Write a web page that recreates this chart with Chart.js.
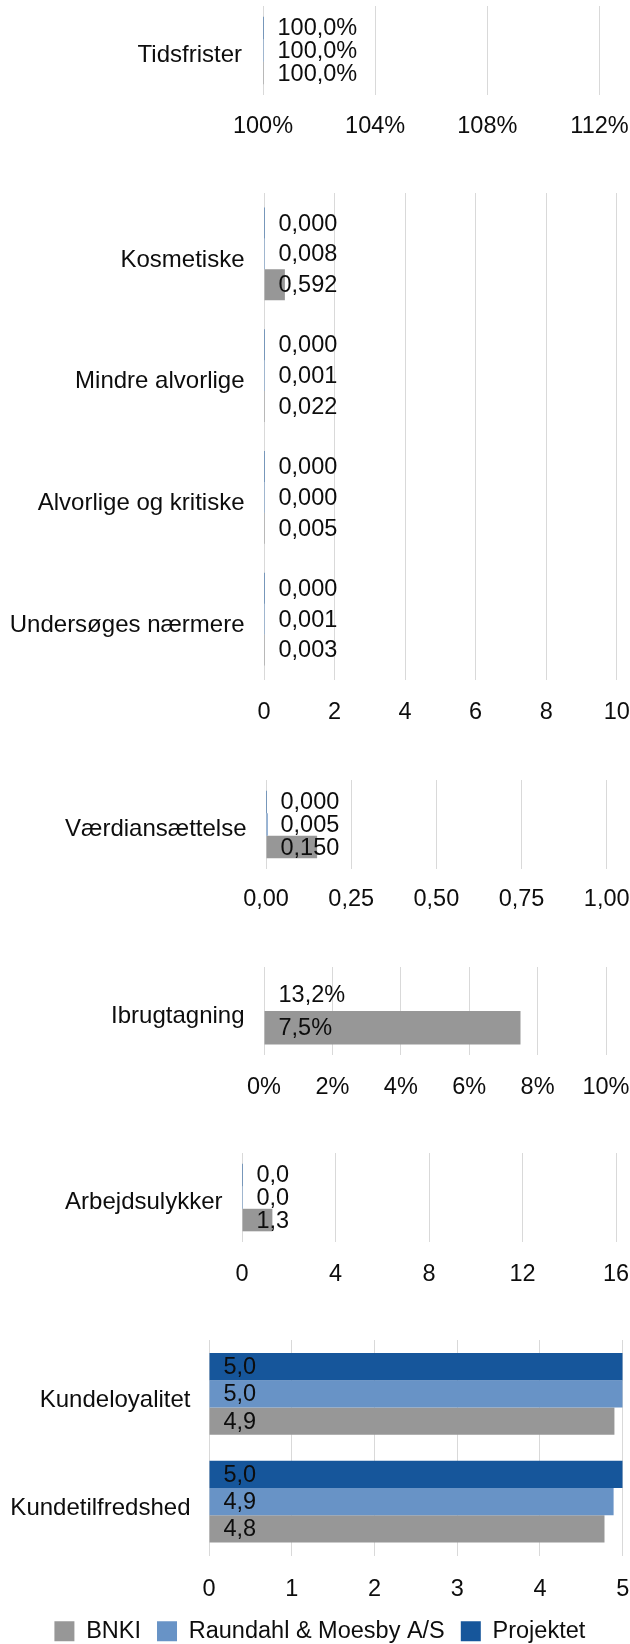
<!DOCTYPE html>
<html lang="da">
<head>
<meta charset="utf-8">
<title>Nøgletal</title>
<script src="https://cdn.jsdelivr.net/npm/chart.js@4.4.1/dist/chart.umd.min.js"></script>
<style>
  body { margin: 0; background: #fff; }
  #wrap { position: relative; width: 630px; height: 1644px; overflow: hidden; }
  canvas { position: absolute; left: 0; }
</style>
</head>
<body>
<div id="wrap">
  <canvas id="tidsfrister"></canvas>
  <canvas id="fejl"></canvas>
  <canvas id="vaerdi"></canvas>
  <canvas id="ibrug"></canvas>
  <canvas id="ulykker"></canvas>
  <canvas id="kunde"></canvas>
</div>
<script>
// serier (øverst -> nederst i hver gruppe)
const navne = ['Projektet', 'Raundahl & Moesby A/S', 'BNKI'];
const farver = ['#16569b', '#6893c6', '#979797'];

const tidsfristerLabels = ['Tidsfrister'];
const tidsfristerProjektet = [100.0];
const tidsfristerRaundahl = [100.0];
const tidsfristerBnki = [100.0];
const tidsfristerTicks = [100, 104, 108, 112];

const fejlLabels = ['Kosmetiske', 'Mindre alvorlige', 'Alvorlige og kritiske', 'Undersøges nærmere'];
const fejlProjektet = [0.000, 0.000, 0.000, 0.000];
const fejlRaundahl = [0.008, 0.001, 0.000, 0.001];
const fejlBnki = [0.592, 0.022, 0.005, 0.003];
const fejlTicks = [0, 2, 4, 6, 8, 10];

const vaerdiLabels = ['Værdiansættelse'];
const vaerdiProjektet = [0.000];
const vaerdiRaundahl = [0.005];
const vaerdiBnki = [0.150];
const vaerdiTicks = [0, 0.25, 0.5, 0.75, 1];

const ibrugLabels = ['Ibrugtagning'];
const ibrugRaundahl = [13.2];
const ibrugBnki = [7.5];
const ibrugTicks = [0, 2, 4, 6, 8, 10];

const ulykkerLabels = ['Arbejdsulykker'];
const ulykkerProjektet = [0.0];
const ulykkerRaundahl = [0.0];
const ulykkerBnki = [1.3];
const ulykkerTicks = [0, 4, 8, 12, 16];

const kundeLabels = ['Kundeloyalitet', 'Kundetilfredshed'];
const kundeProjektet = [5.0, 5.0];
const kundeRaundahl = [5.0, 4.89];
const kundeBnki = [4.9, 4.78];
const kundeTicks = [0, 1, 2, 3, 4, 5];

const fontSize = 23.5;
const catSize = 24;
const labelSize = 23.5;
const fontFamily = '"Liberation Sans", Arial, Helvetica, sans-serif';
const textColor = '#0d0d0d';
const halfLine = fontSize * 1.2 / 2;

Chart.defaults.font.family = fontFamily;
Chart.defaults.font.size = fontSize;
Chart.defaults.color = textColor;

function fmt(dec, suffix) {
    return v => v.toFixed(dec).replace('.', ',') + (suffix || '');
}

// labels "inside base" like Excel
const barLabels = {
    id: 'barLabels',
    afterDatasetsDraw(chart, args, opts) {
        const ctx = chart.ctx;
        ctx.save();
        ctx.font = labelSize + 'px ' + fontFamily;
        ctx.fillStyle = textColor;
        ctx.textAlign = 'left';
        ctx.textBaseline = 'middle';
        chart.data.datasets.forEach((ds, i) => {
            chart.getDatasetMeta(i).data.forEach((bar, j) => {
                ctx.fillText(opts.format(ds.data[j]), bar.base + 14, bar.y + 1);
            });
        });
        ctx.restore();
    }
};

// legend box starts a bit in from the left so the row sits centred like the original
const legendShift = {
    id: 'legendShift',
    beforeDraw(chart, args, opts) {
        if (chart.legend && opts.left) chart.legend.left = opts.left;
    }
};

function serie(i, data, base, color) {
    return {
        label: navne[i],
        data: data,
        base: base,
        backgroundColor: color || farver[i],
        borderWidth: 0,
        minBarLength: 1,
        barPercentage: 1,
        categoryPercentage: 0.76,
    };
}

function panel(id, p) {
    const canvas = document.getElementById(id);
    const canvasTop = p.plotTop - 4;
    const xAxisH = p.legend ? p.legendTop - p.plotBottom : p.tickY - p.plotBottom + 20;
    const canvasH = p.legend ? p.canvasBottom - canvasTop : p.plotBottom + xAxisH - canvasTop;
    canvas.width = 630;
    canvas.height = Math.round(canvasH);
    canvas.style.top = canvasTop + 'px';

    new Chart(canvas, {
        type: 'bar',
        data: { labels: p.labels, datasets: p.datasets },
        options: {
            indexAxis: 'y',
            responsive: false,
            animation: false,
            events: [],
            layout: { padding: { top: 4, right: 630 - p.plotRight, bottom: 0, left: 0 } },
            scales: {
                x: {
                    min: p.ticks[0],
                    max: p.ticks[p.ticks.length - 1],
                    afterBuildTicks: axis => { axis.ticks = p.ticks.map(v => ({ value: v })); },
                    ticks: {
                        callback: p.tickFormat,
                        padding: p.tickY - p.plotBottom - halfLine,
                        maxRotation: 0,
                        autoSkip: false,
                    },
                    grid: { color: '#d9d9d9', drawTicks: false },
                    border: { display: false },
                    afterFit: axis => { axis.height = xAxisH; axis.paddingLeft = 0; axis.paddingRight = 0; },
                },
                y: {
                    ticks: { padding: p.catPad, labelOffset: p.catOffset, font: { size: catSize } },
                    grid: { display: false, drawTicks: false },
                    border: { display: false },
                    afterFit: axis => { axis.width = p.plotLeft; axis.paddingTop = 0; axis.paddingBottom = 0; },
                },
            },
            plugins: {
                legend: p.legend ? {
                    position: 'bottom',
                    reverse: true,
                    labels: { boxWidth: 20, boxHeight: 20, padding: 16 },
                } : { display: false },
                legendShift: { left: p.legendLeft },
                tooltip: { enabled: false },
                barLabels: { format: p.labelFormat },
            },
        },
        plugins: [barLabels, legendShift],
    });
}

panel('tidsfrister', {
    labels: tidsfristerLabels,
    datasets: [
        serie(0, tidsfristerProjektet, 100),
        serie(1, tidsfristerRaundahl, 100),
        serie(2, tidsfristerBnki, 100),
    ],
    ticks: tidsfristerTicks, tickFormat: v => v + '%', labelFormat: fmt(1, '%'),
    plotTop: 6, plotBottom: 95, plotLeft: 263, plotRight: 599.5, tickY: 127,
    catPad: 21, catOffset: 5,
});

panel('fejl', {
    labels: fejlLabels,
    datasets: [serie(0, fejlProjektet), serie(1, fejlRaundahl), serie(2, fejlBnki)],
    ticks: fejlTicks, tickFormat: v => String(v), labelFormat: fmt(3),
    plotTop: 193, plotBottom: 680, plotLeft: 264, plotRight: 616.7, tickY: 713,
    catPad: 19.5, catOffset: 6,
});

panel('vaerdi', {
    labels: vaerdiLabels,
    datasets: [serie(0, vaerdiProjektet), serie(1, vaerdiRaundahl), serie(2, vaerdiBnki)],
    ticks: vaerdiTicks, tickFormat: fmt(2), labelFormat: fmt(3),
    plotTop: 780, plotBottom: 869, plotLeft: 266, plotRight: 606.7, tickY: 900,
    catPad: 19.5, catOffset: 5,
});

panel('ibrug', {
    labels: ibrugLabels,
    datasets: [serie(1, ibrugRaundahl, undefined, 'rgba(0,0,0,0)'), serie(2, ibrugBnki)],
    ticks: ibrugTicks, tickFormat: v => v + '%', labelFormat: fmt(1, '%'),
    plotTop: 967, plotBottom: 1055, plotLeft: 264, plotRight: 606, tickY: 1088,
    catPad: 19.5, catOffset: 5,
});

panel('ulykker', {
    labels: ulykkerLabels,
    datasets: [serie(0, ulykkerProjektet), serie(1, ulykkerRaundahl), serie(2, ulykkerBnki)],
    ticks: ulykkerTicks, tickFormat: v => String(v), labelFormat: fmt(1),
    plotTop: 1153, plotBottom: 1242, plotLeft: 242, plotRight: 616, tickY: 1275,
    catPad: 19.5, catOffset: 5,
});

panel('kunde', {
    labels: kundeLabels,
    datasets: [serie(0, kundeProjektet), serie(1, kundeRaundahl), serie(2, kundeBnki)],
    ticks: kundeTicks, tickFormat: v => String(v), labelFormat: fmt(1),
    plotTop: 1340, plotBottom: 1556, plotLeft: 209, plotRight: 622.7, tickY: 1590,
    catPad: 18.5, catOffset: 6.5,
    legend: true, legendTop: 1604, canvasBottom: 1653, legendLeft: 17,
});
</script>
</body>
</html>
